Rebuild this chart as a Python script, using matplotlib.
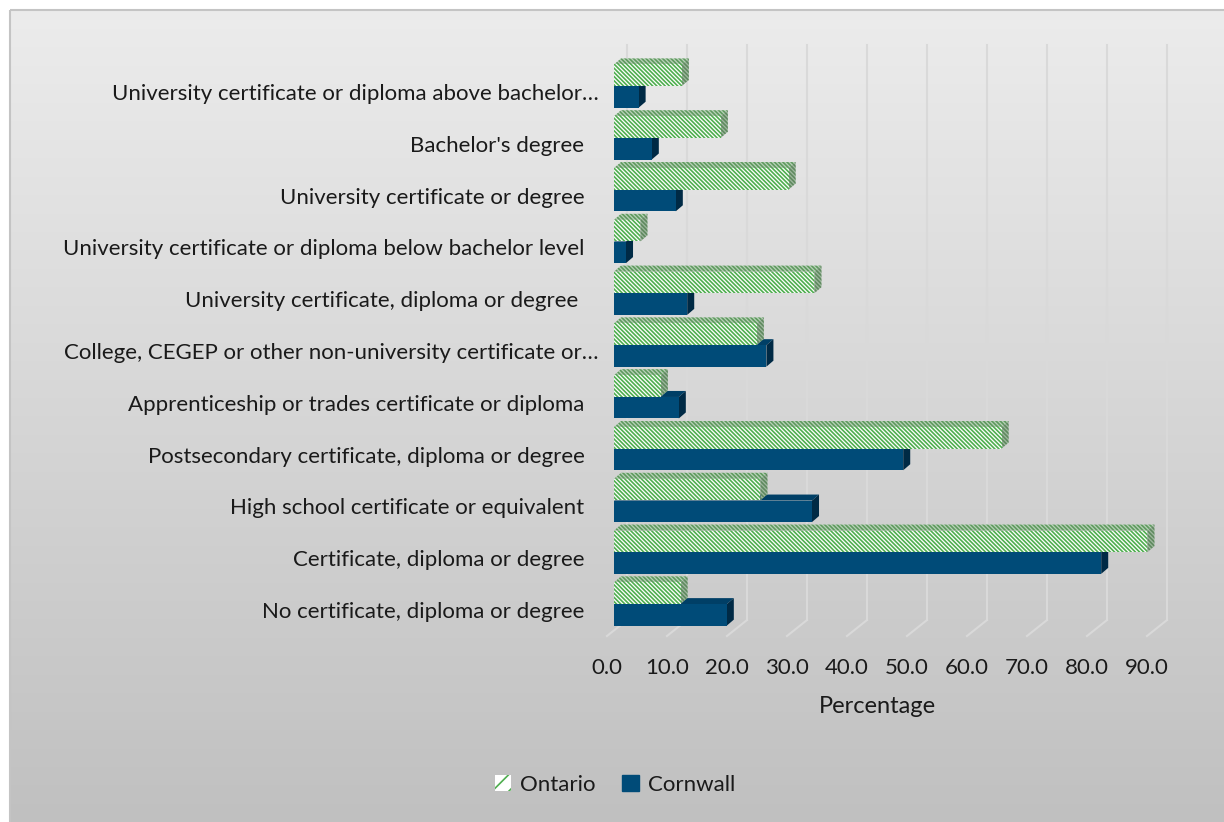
import numpy as np
import matplotlib.pyplot as plt
from matplotlib.patches import Polygon, Patch, Rectangle
from matplotlib.transforms import ScaledTranslation

# highest level of schooling, population aged 25-64 (%)
categories = [
    "No certificate, diploma or degree",
    "Certificate, diploma or degree",
    "High school certificate or equivalent",
    "Postsecondary certificate, diploma or degree",
    "Apprenticeship or trades certificate or diploma",
    "College, CEGEP or other non-university certificate or\u2026",
    "University certificate, diploma or degree",
    "University certificate or diploma below bachelor level",
    "University certificate or degree",
    "Bachelor's degree",
    "University certificate or diploma above bachelor\u2026",
]
ontario = [11.1, 88.9, 24.4, 64.6, 7.8, 23.8, 33.4, 4.4, 29.1, 17.8, 11.3]
cornwall = [18.8, 81.2, 33.0, 48.2, 10.8, 25.4, 12.2, 2.0, 10.3, 6.3, 4.1]
ticks = np.arange(0, 91, 10)

plt.rcParams['font.family'] = ['Lato', 'DejaVu Sans']
plt.rcParams['hatch.linewidth'] = 1.2
FS = 16
TXT = '#1a1a1a'
GREEN = '#4fae4f'
BLUE = '#004b78'

W, H = 1224, 822
fig = plt.figure(figsize=(W / 100, H / 100), dpi=100)
fig.patch.set_facecolor('white')

# chart area: grey vertical gradient inside a thin border
bg = fig.add_axes([0, 0, 1, 1], zorder=0)
bg.set_xlim(0, W)
bg.set_ylim(H, 0)
bg.axis('off')
grad = np.linspace(236, 192, 256)[:, None] / 255.0
bg.imshow(np.dstack([grad, grad, grad]), extent=(10, W + 2, H + 2, 10),
          aspect='auto', interpolation='bicubic')
bg.add_patch(Rectangle((10, 10), W, H, fill=False, ec='#c4c4c4', lw=1.5))

# plot axes: bar front faces start at 614 px, 6 px per percent
ax = fig.add_axes([590 / W, (H - 640) / H, 600 / W, 600 / H], zorder=1)
ax.patch.set_alpha(0)
ax.set_xlim(-4, 96)
ax.set_ylim(-0.695, 10.89)
for s in ax.spines.values():
    s.set_visible(False)

dx, dy = 1.17, 0.116      # depth of the bars
wx, wy = 2.17, -0.309     # back wall offset
fx, fy = -1.17, -0.618    # front edge of the floor

for t in ticks:
    ax.plot([t + wx, t + wx], [wy, 10.79], color='#d9d9d9', lw=1.5, zorder=1)
    ax.plot([t + wx, t + fx], [wy, fy], color='#d9d9d9', lw=1.5, zorder=1,
            clip_on=False)

y = np.arange(len(categories))
h = 0.415
off = 0.21


def bar3d(val, yc, front, top, side, hatch=None, z=2):
    b, t = yc - h / 2, yc + h / 2
    ax.add_patch(Polygon([(0, t), (val, t), (val + dx, t + dy), (dx, t + dy)],
                         closed=True, fc=top, ec='#5e9a5e' if hatch else top,
                         lw=0, hatch=hatch, zorder=z))
    ax.add_patch(Polygon([(val, b), (val, t), (val + dx, t + dy), (val + dx, b + dy)],
                         closed=True, fc=side, ec='#5f8a5f' if hatch else side,
                         lw=0, hatch=hatch, zorder=z))
    ax.barh(yc, val, height=h, color='white' if hatch else front,
            edgecolor=front, lw=0, hatch=hatch, zorder=z)


for i in y:
    bar3d(cornwall[i], i - off, BLUE, '#003f66', '#002a45', z=2 + 2 * (10 - i))
    bar3d(ontario[i], i + off, GREEN, '#b9d2b9', '#9fb89f', hatch='\\' * 8,
          z=3 + 2 * (10 - i))

ax.set_xticks(ticks + fx)
ax.set_xticklabels([f"{t:.1f}" for t in ticks], fontsize=FS, color=TXT)
ax.tick_params(axis='x', length=0, pad=13)
ax.set_yticks(y - 0.116)
ax.set_yticklabels(categories, fontsize=FS, color=TXT)
ax.tick_params(axis='y', length=0, pad=4)
shift = {5: 14, 6: -6, 10: 14}
for i, lbl in enumerate(ax.get_yticklabels()):
    if i in shift:
        lbl.set_transform(lbl.get_transform() +
                          ScaledTranslation(shift[i] / 100, 0, fig.dpi_scale_trans))

ax.text(ticks.mean() + fx, -0.093, "Percentage", transform=ax.get_xaxis_transform(),
        ha='center', va='top', fontsize=FS + 1, color=TXT)

handles = [Patch(facecolor='white', edgecolor=GREEN, hatch='//', lw=0, label='Ontario'),
           Patch(facecolor=BLUE, edgecolor=BLUE, label='Cornwall')]
fig.legend(handles=handles, loc='center', bbox_to_anchor=(615 / W, 1 - 785 / H),
           ncol=2, frameon=False, fontsize=FS, handlelength=0.75, handleheight=0.75,
           handletextpad=0.4, columnspacing=1.2, labelcolor=TXT)

fig.savefig('out.png', dpi=100)
